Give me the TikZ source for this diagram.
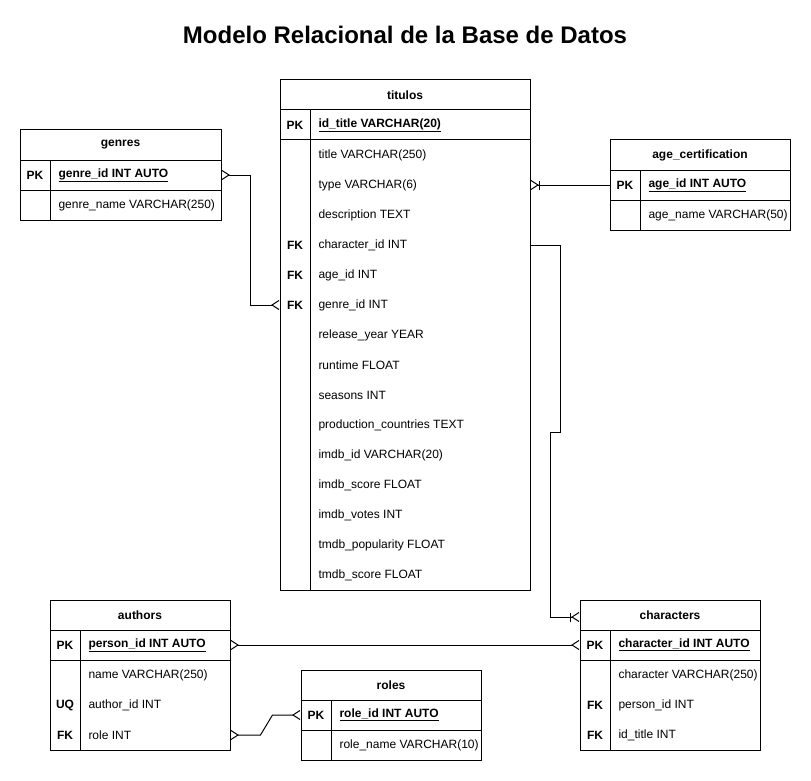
\documentclass[tikz,border=0pt]{standalone}
\usepackage{fontspec}
\setmainfont{Liberation Sans}
\usetikzlibrary{arrows.meta, positioning, calc}
\newcommand{\erfont}{\fontsize{12}{14}\selectfont}
\tikzset{
	hdr/.style={draw, minimum height=30pt, inner sep=0pt, font=\erfont\bfseries},
	pkrow/.style={draw, minimum height=30pt, inner sep=0pt},
	body/.style={draw, inner sep=0pt},
	key/.style={font=\erfont\bfseries, inner sep=0pt},
	fld/.style={anchor=west, inner sep=0pt, font=\erfont},
	pkfld/.style={anchor=west, inner sep=0pt, font=\erfont\bfseries},
	crow/.tip={Straight Barb[reversed, length=7pt, width=9pt]},
	manyboth/.style={{crow}-{crow}},
	onemany/.style={-{Bar[width=9pt] crow}},
}

\begin{document}
\begin{tikzpicture}[x=1pt, y=-1pt, line width=1pt]
	\useasboundingbox (0,0) rectangle (811,781);

	\node[font=\fontsize{24}{28}\selectfont\bfseries] (title) at (405,35) {Modelo Relacional de la Base de Datos};

	% titulos
	\node[hdr, minimum width=250pt] (t-hdr) at (405,95) {titulos};
	\node[pkrow, minimum width=250pt] (t-pk) at (405,125) {};
	\node[body, minimum width=250pt, minimum height=450pt] (t-body) at (405,365) {};
	\draw (310,110) -- (310,590);
	\node[key] at (295,125) {PK};
	\node[pkfld] (t-id) at (318,125) {\underline{id\_title VARCHAR(20)}};
	\node[fld] (t-title) at (318,155) {title VARCHAR(250)};
	\node[fld] (t-type) at (318,185) {type VARCHAR(6)};
	\node[fld] (t-desc) at (318,215) {description TEXT};
	\node[key] at (295,245) {FK};
	\node[fld] (t-char) at (318,245) {character\_id INT};
	\node[key] at (295,275) {FK};
	\node[fld] (t-age) at (318,275) {age\_id INT};
	\node[key] at (295,305) {FK};
	\node[fld] (t-genre) at (318,305) {genre\_id INT};
	\node[fld] (t-year) at (318,335) {release\_year YEAR};
	\node[fld] (t-run) at (318,365) {runtime FLOAT};
	\node[fld] (t-seas) at (318,395) {seasons INT};
	\node[fld] (t-prod) at (318,425) {production\_countries TEXT};
	\node[fld] (t-imdbid) at (318,455) {imdb\_id VARCHAR(20)};
	\node[fld] (t-imdbsc) at (318,485) {imdb\_score FLOAT};
	\node[fld] (t-imdbvo) at (318,515) {imdb\_votes INT};
	\node[fld] (t-tmdbpo) at (318,545) {tmdb\_popularity FLOAT};
	\node[fld] (t-tmdbsc) at (318,575) {tmdb\_score FLOAT};

	% genres
	\node[hdr, minimum width=201pt] (g-hdr) at (120.5,145) {genres};
	\node[pkrow, minimum width=201pt] (g-pk) at (120.5,175) {};
	\node[body, minimum width=201pt, minimum height=30pt] (g-body) at (120.5,205) {};
	\draw (50,160) -- (50,220);
	\node[key] at (35,175) {PK};
	\node[pkfld] (g-id) at (58,175) {\underline{genre\_id INT AUTO}};
	\node[fld] (g-name) at (58,205) {genre\_name VARCHAR(250)};

	% age_certification
	\node[hdr, minimum width=180pt] (a-hdr) at (700,155) {age\_certification};
	\node[pkrow, minimum width=180pt] (a-pk) at (700,185) {};
	\node[body, minimum width=180pt, minimum height=30pt] (a-body) at (700,215) {};
	\draw (640,170) -- (640,230);
	\node[key] at (625,185) {PK};
	\node[pkfld] (a-id) at (648,185) {\underline{age\_id INT AUTO}};
	\node[fld] (a-name) at (648,215) {age\_name VARCHAR(50)};

	% authors
	\node[hdr, minimum width=180pt] (au-hdr) at (140,615) {authors};
	\node[pkrow, minimum width=180pt] (au-pk) at (140,645) {};
	\node[body, minimum width=180pt, minimum height=90pt] (au-body) at (140,705) {};
	\draw (80,630) -- (80,750);
	\node[key] at (65,645) {PK};
	\node[pkfld] (au-id) at (88,645) {\underline{person\_id INT AUTO}};
	\node[fld] (au-name) at (88,675) {name VARCHAR(250)};
	\node[key] at (65,705) {UQ};
	\node[fld] (au-aid) at (88,705) {author\_id INT};
	\node[key] at (65,735) {FK};
	\node[fld] (au-role) at (88,735) {role INT};

	% roles
	\node[hdr, minimum width=180pt] (r-hdr) at (391,685) {roles};
	\node[pkrow, minimum width=180pt] (r-pk) at (391,715) {};
	\node[body, minimum width=180pt, minimum height=30pt] (r-body) at (391,745) {};
	\draw (331,700) -- (331,760);
	\node[key] at (316,715) {PK};
	\node[pkfld] (r-id) at (339,715) {\underline{role\_id INT AUTO}};
	\node[fld] (r-name) at (339,745) {role\_name VARCHAR(10)};

	% characters
	\node[hdr, minimum width=180pt] (c-hdr) at (670,615) {characters};
	\node[pkrow, minimum width=180pt] (c-pk) at (670,645) {};
	\node[body, minimum width=180pt, minimum height=90pt] (c-body) at (670,705) {};
	\draw (610,630) -- (610,750);
	\node[key] at (595,645) {PK};
	\node[pkfld] (c-id) at (618,645) {\underline{character\_id INT AUTO}};
	\node[fld] (c-name) at (618,675) {character VARCHAR(250)};
	\node[key] at (595,705) {FK};
	\node[fld] (c-pid) at (618,705) {person\_id INT};
	\node[key] at (595,735) {FK};
	\node[fld] (c-tid) at (618,735) {id\_title INT};

	% relations
	\draw[manyboth] (g-pk.east) -- ++(29,0) |- (t-body.west |- t-genre);
	\draw[onemany] (a-pk.west) -- (t-body.east |- t-type);
	\draw[onemany] (t-body.east |- t-char) -- ++(30,0) -- ++(0,187) -- ++(-10,0) |- ($(c-hdr.west)+(0,2)$);
	\draw[manyboth] (au-pk.east) -- (c-pk.west);
	\draw[manyboth] (au-body.east |- au-role) -- ++(30,0) -- ++(12,-20) -- (r-pk.west);
\end{tikzpicture}
\end{document}
